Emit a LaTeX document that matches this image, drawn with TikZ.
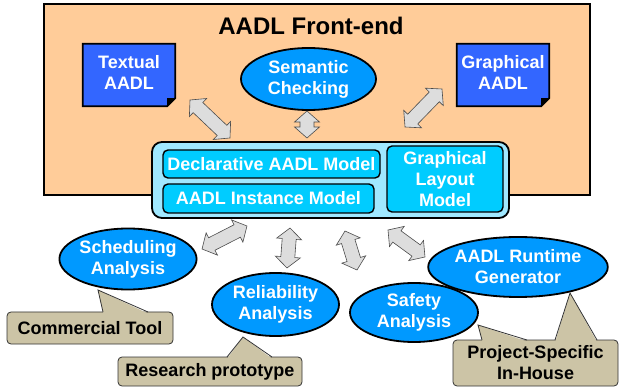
\documentclass[tikz,border=0pt]{standalone}
\usepackage{fontspec}
\setmainfont{Liberation Sans}
\usetikzlibrary{shapes.geometric,calc,backgrounds}
\definecolor{frameorange}{HTML}{FFCC99}
\definecolor{docblue}{HTML}{3366FF}
\definecolor{ellblue}{HTML}{0099FF}
\definecolor{contcyan}{HTML}{A0E8FF}
\definecolor{boxcyan}{HTML}{00CCFF}
\definecolor{arrowgray}{HTML}{DDDDDD}
\definecolor{calloutfill}{HTML}{CCC4A6}
\newcommand{\dblarrow}[2]{%
  \draw[blockarrow] let \p1=($(#2)-(#1)$), \n1={atan2(\y1,\x1)}, \n2={veclen(\x1,\y1)} in
  [shift={(#1)}, rotate=\n1]
  (0pt,0pt) -- (11pt,12.5pt) -- (11pt,7pt) -- ({\n2*1pt-11pt},7pt) -- ({\n2*1pt-11pt},12.5pt)
  -- ({\n2*1pt},0pt) -- ({\n2*1pt-11pt},-12.5pt) -- ({\n2*1pt-11pt},-7pt) -- (11pt,-7pt)
  -- (11pt,-12.5pt) -- cycle;}
\newcommand{\calloutptr}[3]{%
  \fill[calloutfill] ($(#1)+(0.4,1.3)$) -- (#2) -- ($(#3)+(-0.4,1.3)$) -- cycle;
  \draw[calloutline] (#1) -- (#2) -- (#3);}
\begin{document}
\begin{tikzpicture}[x=1pt,y=-1pt,
  font=\fontsize{18}{21}\selectfont\bfseries,
  frame/.style={draw=black, line width=1.8pt, fill=frameorange, inner sep=0},
  blueell/.style={ellipse, draw=black, line width=1.8pt, fill=ellblue, text=white, align=center, inner sep=0},
  container/.style={draw=black, line width=1.8pt, fill=contcyan, rounded corners=10pt, inner sep=0},
  modelbox/.style={draw=black, line width=1.4pt, fill=boxcyan, rounded corners=5pt, text=white, align=center, inner sep=0},
  doctext/.style={text=white, align=center, inner sep=0},
  calloutline/.style={draw=black!80, line width=0.8pt},
  calloutbox/.style={calloutline, fill=calloutfill, rounded corners=4pt, text=black, align=center, inner sep=0},
  blockarrow/.style={draw=black!70, line width=0.6pt, fill=arrowgray, line join=miter}]
\useasboundingbox (0,0) rectangle (621,387);

% documents (text nodes; the sheet is drawn 2.5pt lower than the text box)
\node[doctext, minimum width=92pt, minimum height=62pt] (txt) at (129,72.5) {Textual\\AADL};
\node[doctext, minimum width=92pt, minimum height=62pt] (gra) at (503,72.5) {Graphical\\AADL};

\begin{scope}[on background layer]
  % front-end frame
  \node[frame, minimum width=546pt, minimum height=191pt] (fe) at (317,99.5) {};
  % document sheets with folded corner
  \foreach \d in {txt,gra}{
    \coordinate (nw) at ($(\d.north west)+(0,2.5)$);
    \coordinate (ne) at ($(\d.north east)+(0,2.5)$);
    \coordinate (se) at ($(\d.east |- \d.south)+(0,2.5)$);
    \coordinate (sw) at ($(\d.south west)+(0,2.5)$);
    \filldraw[fill=docblue, draw=black, line width=1.8pt, line join=miter]
      (nw) -- (ne) -- ($(se)+(0,-8)$) -- ($(se)+(-8,0)$) -- (sw) -- cycle;
    \fill[black] ($(se)+(0,-8)$) -- ($(se)+(-8,0)$) -- ($(se)+(-8,-8)$) -- cycle;
  }
\end{scope}

\node[font=\fontsize{24}{28}\selectfont\bfseries] (title) at (311,26) {AADL Front-end};
\node[blueell, minimum width=135pt, minimum height=62pt] (sem) at (308.5,79) {Semantic\\Checking};

% model container
\node[container, minimum width=357pt, minimum height=76pt] (cont) at (330.5,180) {};
\node[modelbox, minimum width=217pt, minimum height=28pt] (decl) at (271.5,164) {Declarative AADL Model};
\node[modelbox, minimum width=211pt, minimum height=29pt] (inst) at (268.5,198.5) {AADL Instance Model};
\node[modelbox, minimum width=116pt, minimum height=66pt] (glm) at (445,179) {Graphical\\Layout\\Model};

% analysis ellipses
\node[blueell, minimum width=135pt, minimum height=61pt] (sched) at (128,259) {Scheduling\\Analysis};
\node[blueell, minimum width=127pt, minimum height=63pt] (rel) at (275.5,304.5) {Reliability\\Analysis};
\node[blueell, minimum width=128pt, minimum height=59pt] (safe) at (414,312.5) {Safety\\Analysis};
\node[blueell, minimum width=153pt, minimum height=60pt] (rtg) at (518,267) {AADL Runtime\\Generator};

% block arrows
\coordinate (a1s) at (190,100); \coordinate (a1e) at (230,138);
\coordinate (a2s) at (307,111); \coordinate (a2e) at (307,138);
\coordinate (a3s) at (442,89);  \coordinate (a3e) at (405,127);
\coordinate (b1s) at (247,226); \coordinate (b1e) at (202,249);
\coordinate (b2s) at (290,228); \coordinate (b2e) at (287,268);
\coordinate (b3s) at (345,231); \coordinate (b3e) at (357,270);
\coordinate (b4s) at (388,230); \coordinate (b4e) at (425,257);
\dblarrow{a1s}{a1e}
\dblarrow{a2s}{a2e}
\dblarrow{a3s}{a3e}
\dblarrow{b1s}{b1e}
\dblarrow{b2s}{b2e}
\dblarrow{b3s}{b3e}
\dblarrow{b4s}{b4e}

% callouts
\node[calloutbox, minimum width=166pt, minimum height=32pt] (ct) at (90,328) {Commercial Tool};
\node[calloutbox, minimum width=184pt, minimum height=29pt] (rp) at (210,371.5) {Research prototype};
\node[calloutbox, minimum width=165pt, minimum height=46pt] (ps) at (535.5,363) {Project-Specific\\In-House};

\coordinate (ctT) at (98,290);  \coordinate (ctA) at (103,312); \coordinate (ctB) at (148,312);
\coordinate (rpT) at (243,337); \coordinate (rpA) at (227,357); \coordinate (rpB) at (272,357);
\coordinate (psT1) at (570,293); \coordinate (psA1) at (555,340); \coordinate (psB1) at (597,340);
\coordinate (psT2) at (478,325); \coordinate (psA2) at (482,340); \coordinate (psB2) at (527,340);
\calloutptr{ctA}{ctT}{ctB}
\calloutptr{rpA}{rpT}{rpB}
\calloutptr{psA1}{psT1}{psB1}
\calloutptr{psA2}{psT2}{psB2}
\end{tikzpicture}
\end{document}
